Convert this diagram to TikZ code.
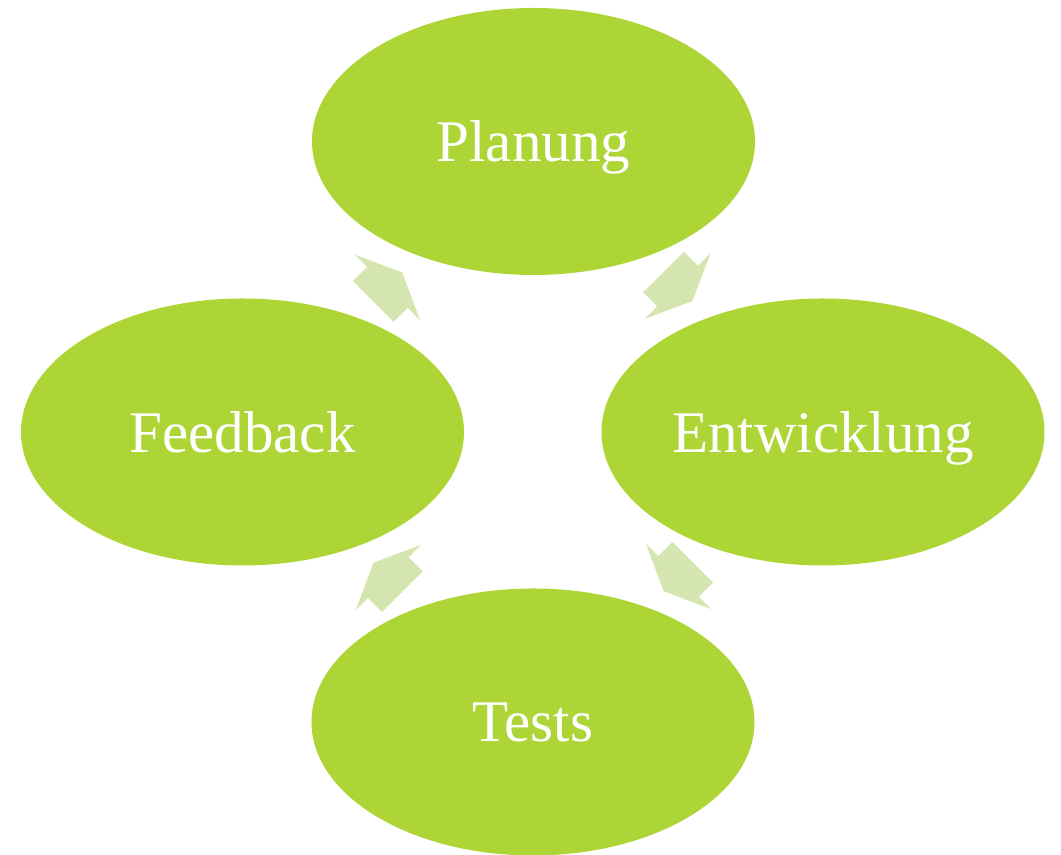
\documentclass[tikz,border=0pt]{standalone}
\usepackage{fontspec}
\setmainfont{Liberation Serif}
\usetikzlibrary{shapes.geometric, shapes.arrows}

\definecolor{phase}{HTML}{ADD535}
\definecolor{flow}{HTML}{D4E5AF}

\begin{document}
\begin{tikzpicture}[
    phasebox/.style={ellipse, fill=phase, draw=none, inner sep=0pt,
        minimum width=4.43cm, minimum height=2.67cm, text depth=0pt,
        text=white, font=\fontsize{16.8}{20}\selectfont},
    flowarrow/.style={single arrow, fill=flow, draw=none,
        inner xsep=0pt, inner ysep=0.28cm, minimum height=0.41cm,
        single arrow head extend=0.175cm, single arrow tip angle=131,
        sloped, allow upside down}
]
\useasboundingbox (0,0) rectangle (10.61,8.55);

\node[phasebox] (pl) at (5.335,7.135) {Planung};
\node[phasebox] (fb) at (2.425,4.23) {Feedback};
\node[phasebox] (en) at (8.23,4.23) {Entwicklung};
\node[phasebox] (te) at (5.33,1.33) {Tests};

%\draw[help lines] (0,0) grid (10,8);

\path (fb) -- (pl) node[pos=0.42, flowarrow] (a1) {};
\path (pl) -- (en) node[pos=0.42, flowarrow] (a2) {};
\path (en) -- (te) node[pos=0.42, flowarrow] (a3) {};
\path (te) -- (fb) node[pos=0.42, flowarrow] (a4) {};

\end{tikzpicture}
\end{document}
